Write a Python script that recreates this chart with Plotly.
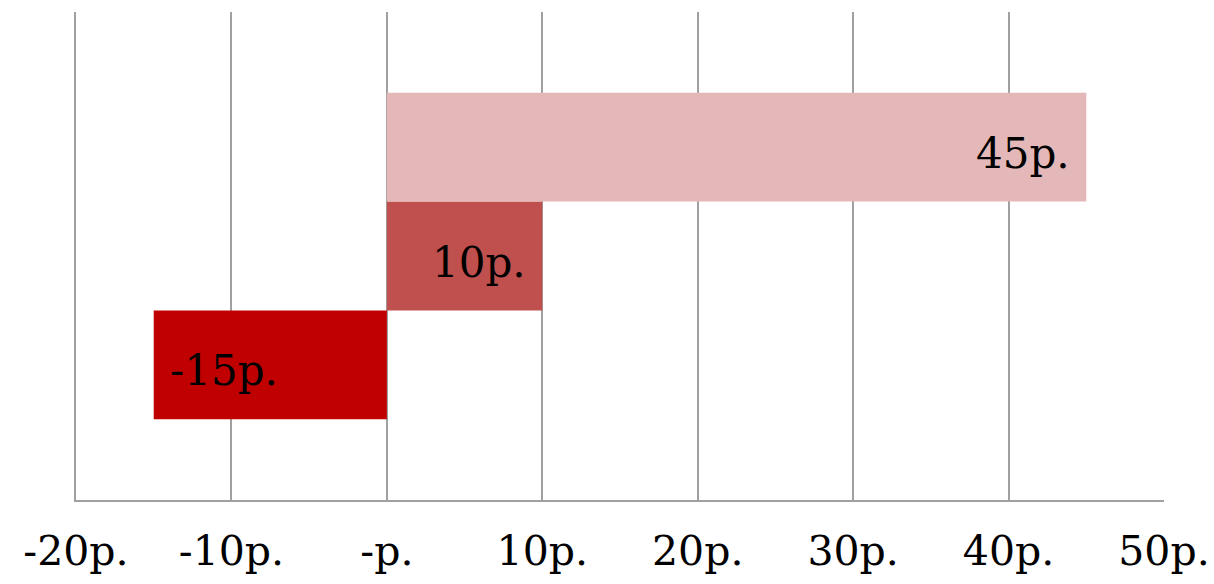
import plotly.graph_objects as go

values = [-15, 10, 45]
labels = ["-15p.", "10p.", "45p."]
colors = ["#C00000", "#C0504D", "#E4B8B8"]
positions = [0, 1, 2]
tick_vals = [-20, -10, 0, 10, 20, 30, 40, 50]
tick_text = ["-20p.", "-10p.", "-p.", "10p.", "20p.", "30p.", "40p.", "50p."]

FONT = "Georgia, 'DejaVu Serif', serif"

fig = go.Figure()
fig.add_trace(go.Bar(
    x=values, y=positions, orientation="h", width=1,
    marker=dict(color=colors, line=dict(width=0)),
    hoverinfo="skip",
))

for v, p, t in zip(values, positions, labels):
    fig.add_annotation(
        x=v, y=p, text=t, showarrow=False,
        xanchor="right" if v > 0 else "left",
        xshift=-14 if v > 0 else 14, yshift=-6,
        font=dict(family=FONT, size=42, color="#000000"),
    )

fig.update_layout(
    width=1214, height=584,
    margin=dict(l=76, r=50, t=12, b=84, autoexpand=False),
    paper_bgcolor="white", plot_bgcolor="white",
    showlegend=False,
    xaxis=dict(
        range=[-20, 50], tickvals=tick_vals, ticktext=tick_text,
        showgrid=True, gridcolor="#A0A0A0", gridwidth=2,
        zeroline=False, showline=True, linecolor="#A0A0A0", linewidth=2,
        tickfont=dict(family=FONT, size=41, color="#000000"),
        ticks="", ticklabelstandoff=14, automargin=False,
    ),
    yaxis=dict(
        range=[-1.243, 3.243], showgrid=False, zeroline=False,
        showticklabels=False, showline=True, linecolor="#A0A0A0", linewidth=2,
        automargin=False,
    ),
)

fig.write_html("out.html")
